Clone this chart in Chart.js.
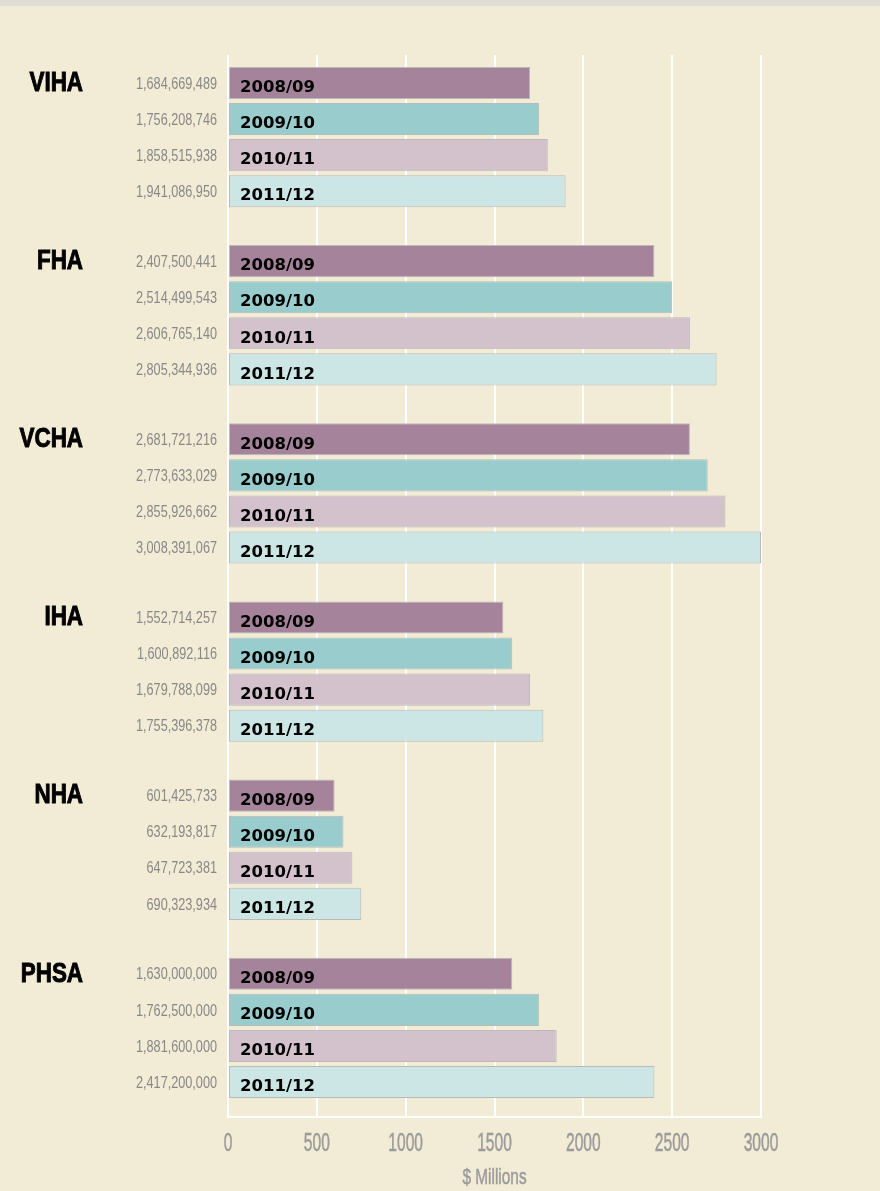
<!DOCTYPE html>
<html>
<head>
<meta charset="utf-8">
<script src="https://cdn.jsdelivr.net/npm/chart.js@4.4.0/dist/chart.umd.min.js"></script>
<style>
    body { margin: 0; background: #f2ebd5; }
    #wrap { width: 880px; height: 1191px; }
</style>
</head>
<body>
<div id="wrap"><canvas id="bar-chart" width="880" height="1191"></canvas></div>
<script>
const regions = ['VIHA', 'FHA', 'VCHA', 'IHA', 'NHA', 'PHSA'];
const years = ['2008/09', '2009/10', '2010/11', '2011/12'];

// bar lengths as drawn ($ millions)
const bars0809 = [1700, 2400, 2600, 1550, 600, 1600];
const bars0910 = [1750, 2500, 2700, 1600, 650, 1750];
const bars1011 = [1800, 2600, 2800, 1700, 700, 1850];
const bars1112 = [1900, 2750, 3000, 1775, 750, 2400];

// dollar amounts printed beside the bars
const amt0809 = [1684669489, 2407500441, 2681721216, 1552714257, 601425733, 1630000000];
const amt0910 = [1756208746, 2514499543, 2773633029, 1600892116, 632193817, 1762500000];
const amt1011 = [1858515938, 2606765140, 2855926662, 1679788099, 647723381, 1881600000];
const amt1112 = [1941086950, 2805344936, 3008391067, 1755396378, 690323934, 2417200000];

const xMin = 0;
const xMax = 3000;
const xStep = 500;
const xTitle = '$ Millions';

const colors = ['rgb(165,132,155)', 'rgb(153,204,205)', 'rgb(211,193,204)', 'rgb(204,229,229)'];
const bg = '#f2ebd5';

function fmt(n) {
    return String(n).replace(/\B(?=(\d{3})+(?!\d))/g, ',');
}

// condensed look: squeeze text horizontally
function drawScaled(ctx, text, x, y, sx, align, stroke) {
    ctx.save();
    ctx.translate(x, y);
    ctx.scale(sx, 1);
    ctx.textAlign = align;
    ctx.fillText(text, 0, 0);
    if (stroke) ctx.strokeText(text, 0, 0);
    ctx.restore();
}

const background = {
    id: 'background',
    beforeDraw(chart) {
        const ctx = chart.ctx;
        ctx.save();
        ctx.fillStyle = bg;
        ctx.fillRect(0, 0, chart.width, chart.height);
        ctx.fillStyle = '#dfddd6';
        ctx.fillRect(0, 0, chart.width, 6);
        ctx.restore();
    },
    beforeDatasetsDraw(chart) {
        // grid lines start a little below the plot top
        const a = chart.chartArea;
        const ctx = chart.ctx;
        ctx.save();
        ctx.fillStyle = bg;
        ctx.fillRect(a.left - 3, a.top - 2, a.right - a.left + 6, 9);
        ctx.restore();
    }
};

const barLabels = {
    id: 'barLabels',
    afterDatasetsDraw(chart) {
        const ctx = chart.ctx;
        const left = chart.chartArea.left;
        ctx.save();
        ctx.textBaseline = 'middle';
        chart.data.datasets.forEach((ds, i) => {
            const meta = chart.getDatasetMeta(i);
            meta.data.forEach((bar, j) => {
                ctx.fillStyle = '#888888';
                ctx.font = '17px "Liberation Sans"';
                drawScaled(ctx, fmt(ds.amounts[j]), left - 11, bar.y + 1, 0.745, 'right');
                ctx.fillStyle = '#000';
                ctx.font = 'bold 16.5px "DejaVu Sans"';
                ctx.textAlign = 'left';
                ctx.fillText(ds.label, left + 12, bar.y + 5);
                if (i === 0) {
                    ctx.font = 'bold 28px "Liberation Sans"';
                    ctx.strokeStyle = '#000';
                    ctx.lineWidth = 1;
                    drawScaled(ctx, regions[j], 83, bar.y, 0.8, 'right', true);
                }
            });
        });
        ctx.restore();
    }
};

// tick labels and axis title, placed from the x scale
const axisLabels = {
    id: 'axisLabels',
    afterDraw(chart) {
        const ctx = chart.ctx;
        const xs = chart.scales.x;
        ctx.save();
        ctx.textBaseline = 'middle';
        ctx.fillStyle = '#9b9b9b';
        ctx.strokeStyle = '#9b9b9b';
        ctx.lineWidth = 0.5;
        ctx.font = '26px "Liberation Sans"';
        xs.ticks.forEach(t => {
            drawScaled(ctx, String(t.value), xs.getPixelForValue(t.value), xs.bottom + 27, 0.6, 'center', true);
        });
        ctx.font = '22px "Liberation Sans"';
        drawScaled(ctx, xTitle, (xs.left + xs.right) / 2, xs.bottom + 61, 0.7, 'center', true);
        ctx.restore();
    }
};

const barData = {
    labels: regions,
    datasets: [
        { label: years[0], data: bars0809, amounts: amt0809 },
        { label: years[1], data: bars0910, amounts: amt0910 },
        { label: years[2], data: bars1011, amounts: amt1011 },
        { label: years[3], data: bars1112, amounts: amt1112 }
    ].map((d, i) => Object.assign(d, {
        backgroundColor: colors[i],
        borderColor: '#bababa',
        borderWidth: 1,
        borderSkipped: false,
        categoryPercentage: 0.81,
        barPercentage: 0.89
    }))
};

const barOptions = {
    indexAxis: 'y',
    responsive: false,
    animation: false,
    layout: {
        padding: { left: 228, right: 119, top: 48, bottom: 74 }
    },
    plugins: {
        legend: { display: false },
        tooltip: { enabled: false }
    },
    scales: {
        y: { display: false },
        x: {
            min: xMin,
            max: xMax,
            ticks: { stepSize: xStep, display: false },
            grid: { color: '#ffffff', lineWidth: 2, drawTicks: false },
            border: { color: '#ffffff', width: 2 }
        }
    }
};

const barChart = new Chart(document.getElementById('bar-chart'), {
    type: 'bar',
    data: barData,
    options: barOptions,
    plugins: [background, barLabels, axisLabels]
});
</script>
</body>
</html>
